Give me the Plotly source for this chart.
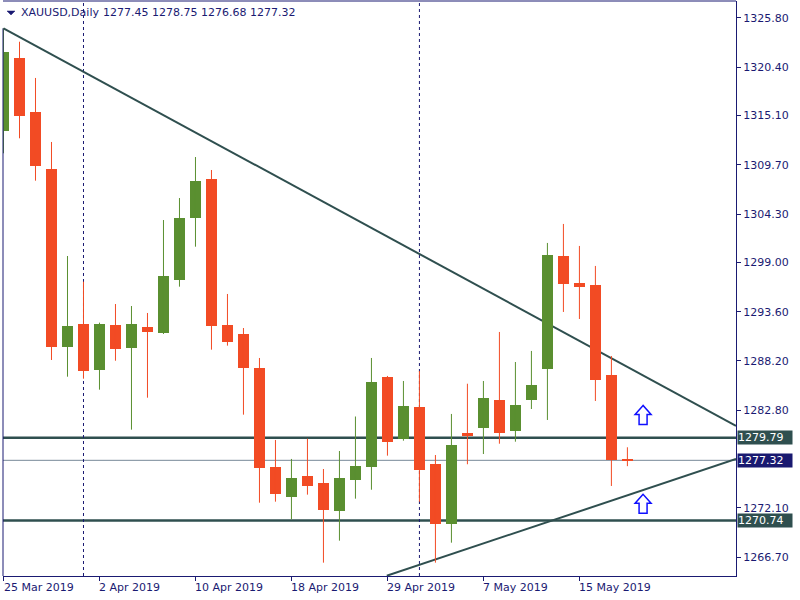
import plotly.graph_objects as go

# ---------------- data ----------------
dates = ["25 Mar 2019", "26 Mar 2019", "27 Mar 2019", "28 Mar 2019", "29 Mar 2019",
         "1 Apr 2019", "2 Apr 2019", "3 Apr 2019", "4 Apr 2019", "5 Apr 2019",
         "8 Apr 2019", "9 Apr 2019", "10 Apr 2019", "11 Apr 2019", "12 Apr 2019",
         "15 Apr 2019", "16 Apr 2019", "17 Apr 2019", "18 Apr 2019", "22 Apr 2019",
         "23 Apr 2019", "24 Apr 2019", "25 Apr 2019", "26 Apr 2019", "29 Apr 2019",
         "30 Apr 2019", "1 May 2019", "2 May 2019", "3 May 2019", "6 May 2019",
         "7 May 2019", "8 May 2019", "9 May 2019", "10 May 2019", "13 May 2019",
         "14 May 2019", "15 May 2019", "16 May 2019", "17 May 2019", "20 May 2019"]

opens = [1313.43, 1321.39, 1315.48, 1309.23, 1289.77, 1292.25, 1287.25, 1292.14, 1289.66, 1291.92,
         1291.30, 1297.10, 1303.90, 1308.13, 1292.14, 1291.16, 1287.43, 1276.59, 1273.34, 1275.60,
         1274.84, 1271.80, 1275.20, 1276.62, 1286.45, 1279.69, 1283.16, 1276.92, 1270.38, 1280.31,
         1280.86, 1283.93, 1280.57, 1283.93, 1287.32, 1299.70, 1296.74, 1296.52, 1286.67, 1277.45]
highs = [1324.64, 1323.17, 1319.20, 1312.19, 1299.70, 1296.89, 1292.40, 1294.44, 1294.22, 1293.46,
         1303.64, 1306.05, 1310.54, 1309.12, 1295.54, 1291.81, 1288.53, 1279.55, 1277.47, 1279.69,
         1276.37, 1278.34, 1282.12, 1288.53, 1286.56, 1286.01, 1287.10, 1277.90, 1282.40, 1285.71,
         1286.01, 1291.38, 1288.09, 1289.30, 1301.13, 1303.21, 1300.80, 1298.61, 1288.75, 1278.75]
lows = [1310.95, 1312.59, 1307.95, 1288.31, 1286.48, 1286.26, 1285.06, 1288.23, 1280.68, 1284.18,
        1291.16, 1296.34, 1300.72, 1289.44, 1289.88, 1282.32, 1272.68, 1272.79, 1270.86, 1273.56,
        1266.11, 1268.52, 1273.12, 1274.10, 1277.83, 1279.47, 1272.79, 1266.11, 1268.30, 1276.89,
        1278.01, 1279.14, 1279.36, 1282.94, 1281.74, 1293.57, 1292.80, 1283.82, 1274.51, 1276.68]
closes = [1322.08, 1315.07, 1309.59, 1289.77, 1292.03, 1287.14, 1292.25, 1289.55, 1292.25, 1291.41,
          1297.51, 1303.86, 1307.92, 1292.07, 1290.31, 1287.47, 1276.51, 1273.67, 1275.39, 1274.54,
          1271.91, 1275.39, 1276.74, 1285.90, 1279.36, 1283.27, 1276.29, 1270.38, 1278.97, 1280.02,
          1284.15, 1280.31, 1283.38, 1285.57, 1299.81, 1296.63, 1296.31, 1286.12, 1277.36, 1277.32]

date_labels = ["25 Mar 2019", "2 Apr 2019", "10 Apr 2019", "18 Apr 2019",
               "29 Apr 2019", "7 May 2019", "15 May 2019"]
price_ticks = [1325.80, 1320.40, 1315.10, 1309.70, 1304.30, 1299.00, 1293.60,
               1288.20, 1282.80, 1272.10, 1266.70]
hlines = [1279.79, 1270.74]
bid_price = 1277.32
separator_dates = ["1 Apr 2019", "1 May 2019"]
upper_trend = [(0.0, 1324.64), (45.79, 1281.10)]
lower_trend = [(23.96, 1264.68), (45.79, 1277.46)]
arrow_bars = [39.98, 39.98]
arrow_prices = [1282.29, 1272.56]
header_symbol = "XAUUSD,Daily"
header_ohlc = "1277.45 1278.75 1276.68 1277.32"

# ---------------- styles ----------------
UP = "#5A8F30"
DOWN = "#F24B24"
NAVY = "#1A1A72"
SLATE = "#2F4F4F"
FONT = "DejaVu Sans"

idx = list(range(len(dates)))
colors = [UP if c >= o else DOWN for o, c in zip(opens, closes)]
bases = [min(o, c) for o, c in zip(opens, closes)]
heights = [max(abs(c - o), 0.11) for o, c in zip(opens, closes)]

fig = go.Figure()

for col in (UP, DOWN):
    xs, ys = [], []
    for i in idx:
        if colors[i] == col:
            xs += [i, i, None]
            ys += [lows[i], highs[i], None]
    fig.add_trace(go.Scatter(x=xs, y=ys, mode="lines", line=dict(color=col, width=1),
                             hoverinfo="skip", showlegend=False))

fig.add_trace(go.Bar(x=idx, base=bases, y=heights, width=0.6875,
                     marker=dict(color=colors, line=dict(width=0)),
                     hoverinfo="skip", showlegend=False))

shapes = []
# horizontal levels
for p in hlines:
    shapes.append(dict(type="line", xref="paper", yref="y", x0=0, x1=1, y0=p, y1=p,
                       line=dict(color=SLATE, width=2.5), layer="below"))
shapes.append(dict(type="line", xref="paper", yref="y", x0=0, x1=1, y0=bid_price, y1=bid_price,
                   line=dict(color="#778899", width=1), layer="below"))
# trendlines
for (xa, ya), (xb, yb) in (upper_trend, lower_trend):
    shapes.append(dict(type="line", xref="x", yref="y", x0=xa, y0=ya, x1=xb, y1=yb,
                       line=dict(color=SLATE, width=2), layer="below"))
# period separators
for d in separator_dates:
    i = dates.index(d)
    shapes.append(dict(type="line", xref="x", yref="paper", x0=i, x1=i, y0=0, y1=1,
                       line=dict(color=NAVY, width=1, dash="3px,3px"), layer="below"))
# frame: top and partial left
shapes.append(dict(type="line", xref="paper", yref="paper", x0=0, x1=1, y0=1, y1=1,
                   line=dict(color=NAVY, width=1)))
shapes.append(dict(type="line", xref="paper", yref="y", x0=0, x1=0,
                   y0=1264.65, y1=upper_trend[0][1], line=dict(color=NAVY, width=1)))
# header triangle
shapes.append(dict(type="path", xref="paper", yref="paper", xsizemode="pixel", ysizemode="pixel",
                   xanchor=0, yanchor=1, path="M4,-10 L12,-10 L8,-14 Z",
                   fillcolor=NAVY, line=dict(color=NAVY, width=0.5)))
# up arrows
for xb, pb in zip(arrow_bars, arrow_prices):
    shapes.append(dict(type="path", xref="x", yref="y", xsizemode="pixel", ysizemode="pixel",
                       xanchor=xb, yanchor=pb,
                       path="M0,9.5 L-8,0.5 L-4,0.5 L-4,-9.5 L4,-9.5 L4,0.5 L8,0.5 Z",
                       fillcolor="white", line=dict(color="#1010FF", width=1.5)))

annotations = []
# date labels (left aligned at their bar)
for d in date_labels:
    annotations.append(dict(x=dates.index(d), y=0, xref="x", yref="paper", text=d,
                            showarrow=False, xanchor="left", yanchor="top", xshift=-2, yshift=-3,
                            font=dict(family=FONT, size=11, color=NAVY)))
# price labels on the right
for p, bg in ((hlines[0], SLATE), (bid_price, "#191970"), (hlines[1], SLATE)):
    annotations.append(dict(x=1, y=p, xref="paper", yref="y", text=f"{p:.2f}",
                            showarrow=False, xanchor="left", yanchor="middle", xshift=1,
                            bgcolor=bg, borderpad=0, width=54, height=13, align="left",
                            font=dict(family=FONT, size=11, color="white")))
# header
annotations.append(dict(x=0, y=1, xref="paper", yref="paper", text=header_symbol,
                        showarrow=False, xanchor="left", yanchor="middle", xshift=16, yshift=-11,
                        font=dict(family=FONT, size=11, color=NAVY)))
annotations.append(dict(x=0, y=1, xref="paper", yref="paper", text=header_ohlc,
                        showarrow=False, xanchor="left", yanchor="middle", xshift=98, yshift=-11,
                        font=dict(family=FONT, size=11, color=NAVY)))

fig.update_layout(
    width=800, height=600,
    margin=dict(l=3, r=64, t=1, b=24),
    paper_bgcolor="white", plot_bgcolor="white",
    showlegend=False, bargap=0,
    shapes=shapes, annotations=annotations,
    xaxis=dict(range=[-0.03125, 45.78875], showgrid=False, zeroline=False,
               tickvals=[dates.index(d) for d in date_labels], showticklabels=False,
               ticks="outside", ticklen=4, tickcolor=NAVY,
               showline=True, linecolor=NAVY, linewidth=1, fixedrange=True),
    yaxis=dict(range=[1264.65, 1327.63], side="right", showgrid=False, zeroline=False,
               tickvals=price_ticks, ticktext=[f"{v:.2f}" for v in price_ticks],
               ticks="outside", ticklen=4, tickcolor=NAVY,
               tickfont=dict(family=FONT, size=11, color=NAVY),
               showline=True, linecolor=NAVY, linewidth=1, fixedrange=True),
)

fig.write_html("out.html", config={"displayModeBar": False},
               post_script="document.body.style.margin='0px';document.body.style.overflow='hidden';")
